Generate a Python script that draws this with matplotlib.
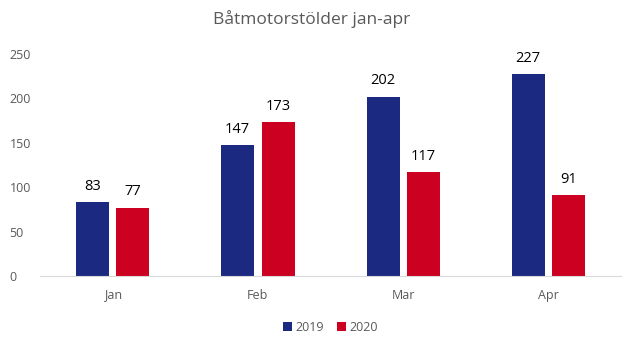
import matplotlib
matplotlib.use("Agg")
import matplotlib.pyplot as plt
import numpy as np

months = ["Jan", "Feb", "Mar", "Apr"]
years = ["2019", "2020"]
values_2019 = [83, 147, 202, 227]
values_2020 = [77, 173, 117, 91]
colors = ["#1b2a80", "#cc0020"]

plt.rcParams["font.family"] = ["Open Sans", "DejaVu Sans"]

fig = plt.figure(figsize=(6.23, 3.47), dpi=100)
ax = fig.add_axes([0.0642, 0.2046, 0.9328, 0.6398])

x = np.arange(len(months))
width = 0.227
offset = 0.139
for vals, col, lab, sgn in [(values_2019, colors[0], years[0], -1),
                            (values_2020, colors[1], years[1], 1)]:
    bars = ax.bar(x + sgn * offset, vals, width, color=col, label=lab)
    for b, v in zip(bars, vals):
        ax.annotate(str(v), (b.get_x() + b.get_width() / 2, v),
                    xytext=(0, 6), textcoords="offset points",
                    ha="center", va="bottom", fontsize=10.5, color="#000000")

ax.set_xlim(-0.5, 3.5)
ax.set_ylim(0, 250)
ax.set_yticks(range(0, 251, 50))
ax.set_xticks(x)
ax.set_xticklabels(months)
for s in ["top", "right", "left"]:
    ax.spines[s].set_visible(False)
ax.spines["bottom"].set_color("#d9d9d9")
ax.tick_params(axis="both", length=0, labelsize=9, colors="#595959")
ax.tick_params(axis="x", pad=9)
ax.tick_params(axis="y", pad=22)
for t in ax.get_yticklabels():
    t.set_horizontalalignment("left")

fig.text(0.5, 0.945, "Båtmotorstölder jan-apr", ha="center", va="center",
         fontsize=12.5, color="#595959")

leg = ax.legend(loc="center", bbox_to_anchor=(0.5, -0.23), ncol=2,
                frameon=False, fontsize=9, handlelength=0.7, handleheight=0.7,
                handletextpad=0.3, columnspacing=1.0, labelcolor="#595959")

fig.savefig("out.png", dpi=100)
